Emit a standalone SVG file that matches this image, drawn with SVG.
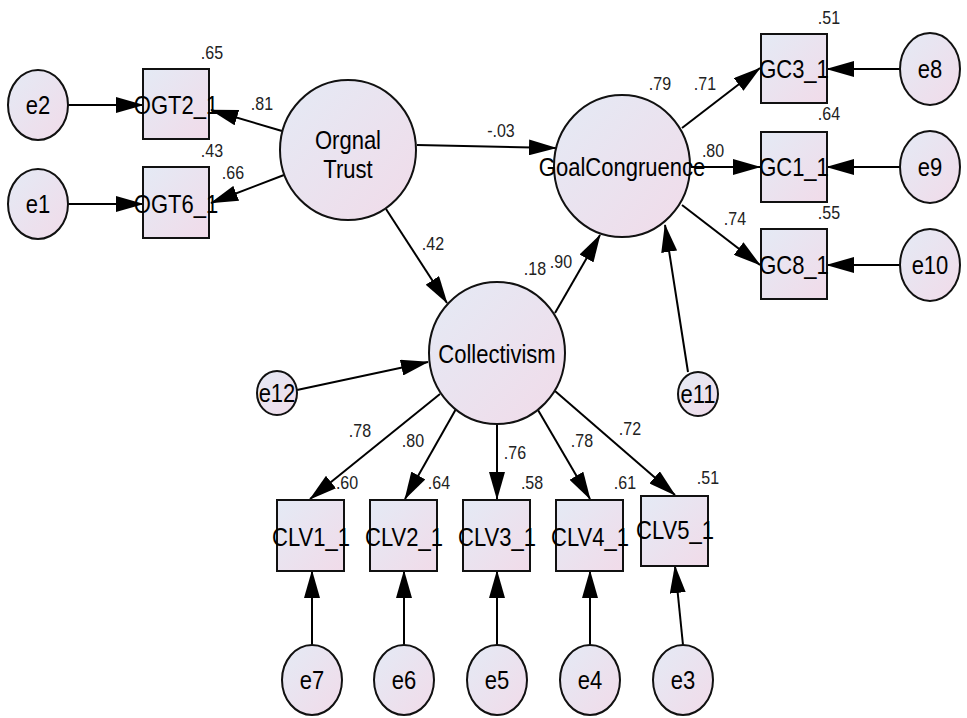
<svg xmlns="http://www.w3.org/2000/svg" width="967" height="718" viewBox="0 0 967 718">
<defs>
<linearGradient id="fillg" x1="0" y1="0" x2="1" y2="1">
<stop offset="0" stop-color="#e4eaf5"/>
<stop offset="1" stop-color="#f1dbe9"/>
</linearGradient>
<marker id="ah" markerUnits="userSpaceOnUse" markerWidth="28" markerHeight="16" refX="27" refY="8" orient="auto">
<path d="M0,0 L28,8 L0,16 z" fill="#000"/>
</marker>
<style>
.n{fill:url(#fillg);stroke:#111;stroke-width:2}
.t{font-family:"Liberation Sans",Arial,sans-serif;font-size:22px;fill:#000;text-anchor:middle;transform-box:fill-box;transform-origin:center;transform:scaleY(1.13)}
.l{font-family:"Liberation Sans",Arial,sans-serif;font-size:16px;fill:#222;text-anchor:middle;transform-box:fill-box;transform-origin:center;transform:scaleY(1.13)}
.c line{stroke:#000;stroke-width:2;marker-end:url(#ah)}
</style>
</defs>
<rect width="967" height="718" fill="#fff"/>

<g id="connectors" class="c">
<line x1="68" y1="105" x2="143" y2="105"/>
<line x1="68" y1="204" x2="143" y2="204"/>
<line x1="282" y1="131" x2="211" y2="110"/>
<line x1="284" y1="175" x2="211" y2="203"/>
<line x1="417" y1="145" x2="556" y2="148"/>
<line x1="386" y1="209" x2="447" y2="303"/>
<line x1="555" y1="313" x2="600" y2="235"/>
<line x1="688" y1="372" x2="665" y2="225"/>
<line x1="297" y1="390" x2="428" y2="362"/>
<line x1="682" y1="128" x2="760" y2="68"/>
<line x1="691" y1="167" x2="760" y2="167"/>
<line x1="682" y1="205" x2="760" y2="265"/>
<line x1="900" y1="69" x2="827" y2="69"/>
<line x1="900" y1="167" x2="827" y2="167"/>
<line x1="900" y1="265" x2="827" y2="265"/>
<line x1="440" y1="394" x2="310" y2="499"/>
<line x1="456" y1="409" x2="405" y2="499"/>
<line x1="497" y1="424" x2="497" y2="499"/>
<line x1="538" y1="410" x2="590" y2="499"/>
<line x1="555" y1="391" x2="675" y2="495"/>
<line x1="312" y1="645" x2="312" y2="571"/>
<line x1="404" y1="645" x2="404" y2="571"/>
<line x1="497" y1="645" x2="497" y2="571"/>
<line x1="590" y1="645" x2="590" y2="571"/>
<line x1="683" y1="645" x2="675" y2="566"/>
</g>

<g id="OrgnalTrust"><ellipse class="n" cx="348" cy="150" rx="68" ry="70"/><text class="t" x="348" y="148">Orgnal</text><text class="t" x="348" y="177">Trust</text></g>
<g id="GoalCongruence"><ellipse class="n" cx="622" cy="166" rx="68" ry="71"/><text class="t" x="622" y="175">GoalCongruence</text></g>
<g id="Collectivism"><ellipse class="n" cx="497" cy="353" rx="68" ry="71"/><text class="t" x="497" y="362">Collectivism</text></g>

<g id="OGT2_1"><rect class="n" x="143" y="69" width="66" height="70"/><text class="t" x="176" y="113">OGT2_1</text></g>
<g id="OGT6_1"><rect class="n" x="143" y="167" width="66" height="71"/><text class="t" x="176" y="212">OGT6_1</text></g>
<g id="GC3_1"><rect class="n" x="761" y="34" width="66" height="69"/><text class="t" x="794" y="77">GC3_1</text></g>
<g id="GC1_1"><rect class="n" x="761" y="132" width="66" height="70"/><text class="t" x="794" y="175">GC1_1</text></g>
<g id="GC8_1"><rect class="n" x="761" y="229" width="66" height="70"/><text class="t" x="794" y="273">GC8_1</text></g>
<g id="CLV1_1"><rect class="n" x="277" y="500" width="67" height="71"/><text class="t" x="311" y="545">CLV1_1</text></g>
<g id="CLV2_1"><rect class="n" x="370" y="500" width="67" height="71"/><text class="t" x="404" y="545">CLV2_1</text></g>
<g id="CLV3_1"><rect class="n" x="463" y="500" width="67" height="71"/><text class="t" x="497" y="545">CLV3_1</text></g>
<g id="CLV4_1"><rect class="n" x="556" y="500" width="67" height="71"/><text class="t" x="590" y="545">CLV4_1</text></g>
<g id="CLV5_1"><rect class="n" x="641" y="496" width="67" height="70"/><text class="t" x="675" y="538">CLV5_1</text></g>

<g id="e1"><ellipse class="n" cx="38" cy="204" rx="30" ry="35"/><text class="t" x="38" y="212">e1</text></g>
<g id="e2"><ellipse class="n" cx="38" cy="105" rx="30" ry="35"/><text class="t" x="38" y="113">e2</text></g>
<g id="e3"><ellipse class="n" cx="683" cy="680" rx="30" ry="35"/><text class="t" x="683" y="688">e3</text></g>
<g id="e4"><ellipse class="n" cx="590" cy="680" rx="30" ry="35"/><text class="t" x="590" y="688">e4</text></g>
<g id="e5"><ellipse class="n" cx="497" cy="680" rx="30" ry="35"/><text class="t" x="497" y="688">e5</text></g>
<g id="e6"><ellipse class="n" cx="404" cy="680" rx="30" ry="35"/><text class="t" x="404" y="688">e6</text></g>
<g id="e7"><ellipse class="n" cx="312" cy="680" rx="30" ry="35"/><text class="t" x="312" y="688">e7</text></g>
<g id="e8"><ellipse class="n" cx="930" cy="69" rx="30" ry="36"/><text class="t" x="930" y="77">e8</text></g>
<g id="e9"><ellipse class="n" cx="930" cy="167" rx="30" ry="36"/><text class="t" x="930" y="175">e9</text></g>
<g id="e10"><ellipse class="n" cx="930" cy="265" rx="30" ry="36"/><text class="t" x="930" y="273">e10</text></g>
<g id="e11"><ellipse class="n" cx="698" cy="394" rx="20" ry="22"/><text class="t" x="698" y="402">e11</text></g>
<g id="e12"><ellipse class="n" cx="277" cy="393" rx="20" ry="22"/><text class="t" x="277" y="401">e12</text></g>

<g id="labels">
<text class="l" x="212" y="58">.65</text>
<text class="l" x="262" y="109">.81</text>
<text class="l" x="212" y="156">.43</text>
<text class="l" x="233" y="178">.66</text>
<text class="l" x="501" y="136">-.03</text>
<text class="l" x="433" y="249">.42</text>
<text class="l" x="660" y="89">.79</text>
<text class="l" x="705" y="89">.71</text>
<text class="l" x="829" y="23">.51</text>
<text class="l" x="713" y="156">.80</text>
<text class="l" x="829" y="119">.64</text>
<text class="l" x="735" y="224">.74</text>
<text class="l" x="829" y="218">.55</text>
<text class="l" x="535" y="274">.18</text>
<text class="l" x="561" y="267">.90</text>
<text class="l" x="360" y="436">.78</text>
<text class="l" x="413" y="446">.80</text>
<text class="l" x="515" y="458">.76</text>
<text class="l" x="582" y="446">.78</text>
<text class="l" x="630" y="434">.72</text>
<text class="l" x="347" y="488">.60</text>
<text class="l" x="439" y="488">.64</text>
<text class="l" x="532" y="488">.58</text>
<text class="l" x="625" y="488">.61</text>
<text class="l" x="708" y="483">.51</text>
</g>
</svg>
